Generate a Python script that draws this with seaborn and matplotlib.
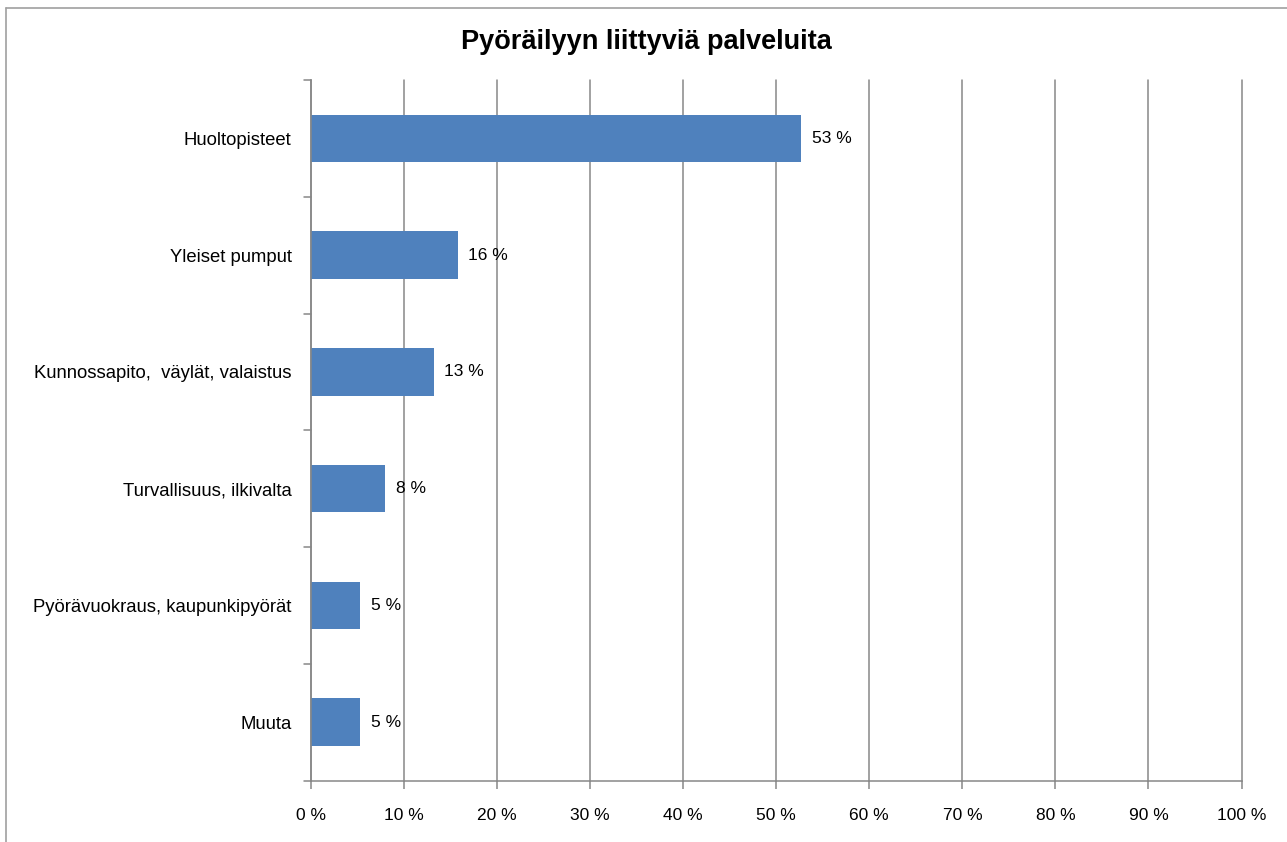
import matplotlib
matplotlib.use("Agg")
import matplotlib.pyplot as plt
import seaborn as sns
import pandas as pd
from matplotlib.lines import Line2D

categories = ["Huoltopisteet", "Yleiset pumput", "Kunnossapito,  väylät, valaistus",
              "Turvallisuus, ilkivalta", "Pyörävuokraus, kaupunkipyörät", "Muuta"]
values = [52.7, 15.8, 13.2, 8.0, 5.3, 5.3]
labels = ["53 %", "16 %", "13 %", "8 %", "5 %", "5 %"]
xticks = list(range(0, 101, 10))
xticklabels = [f"{t} %" for t in xticks]
title = "Pyöräilyyn liittyviä palveluita"

sns.set_theme(style="white")
plt.rcParams['font.family'] = ['Liberation Sans', 'DejaVu Sans']

df = pd.DataFrame({"cat": categories, "val": values})

fig = plt.figure(figsize=(12.87, 8.42), dpi=100)
ax = fig.add_axes([311/1287, 1-780.5/842, (1241.5-311)/1287, (780.5-80)/842])

sns.barplot(data=df, y="cat", x="val", orient="h", color="#4F81BD",
            saturation=1, width=0.405, ax=ax, zorder=3, linewidth=0, edgecolor="none")

ax.set_xlim(0, 100)
ax.set_ylim(5.5, -0.5)
ax.set_xticks(xticks)
ax.set_xticklabels(xticklabels, fontsize=12.5, color="#000000")
ax.tick_params(axis='x', pad=14)
ax.set_yticks([i for i in range(len(categories))])
ax.set_yticklabels(categories, fontsize=13.3, color="#000000")
ax.tick_params(axis='y', length=0, pad=14)
ax.set_xlabel("")
ax.set_ylabel("")

grid_c = "#878787"
ax.xaxis.grid(True, color=grid_c, linewidth=1.1, zorder=0)
for gl in ax.get_xgridlines():
    gl.set_clip_on(False)
ax.yaxis.grid(False)
for s in ["top", "right"]:
    ax.spines[s].set_visible(False)
ax.spines["left"].set_color(grid_c)
ax.spines["bottom"].set_color(grid_c)
ax.spines["left"].set_linewidth(1.1)
ax.spines["bottom"].set_linewidth(1.1)
ax.spines["left"].set_zorder(4)
ax.tick_params(axis='x', length=6, width=1.1, color=grid_c, direction='out', bottom=True)

# category separator ticks on the y axis
for b in [i - 0.5 for i in range(len(categories) + 1)]:
    ax.plot([-0.8, 0], [b, b], color=grid_c, linewidth=1.1, clip_on=False, zorder=4)

for i, (v, lab) in enumerate(zip(values, labels)):
    ax.text(v + 1.1, i, lab, va="center", ha="left", fontsize=12.5, color="#000000")

fig.text(646/1287, 1-42/842, title, ha="center", va="center", fontsize=19.5,
         fontweight="bold", color="#000000")

# chart area border (top and left)
fig.add_artist(Line2D([6/1287, 1], [1-8/842, 1-8/842], color="#A0A0A0", linewidth=1.2,
                      transform=fig.transFigure))
fig.add_artist(Line2D([6/1287, 6/1287], [0, 1-8/842], color="#A0A0A0", linewidth=1.2,
                      transform=fig.transFigure))

fig.savefig("out.png", dpi=100)
